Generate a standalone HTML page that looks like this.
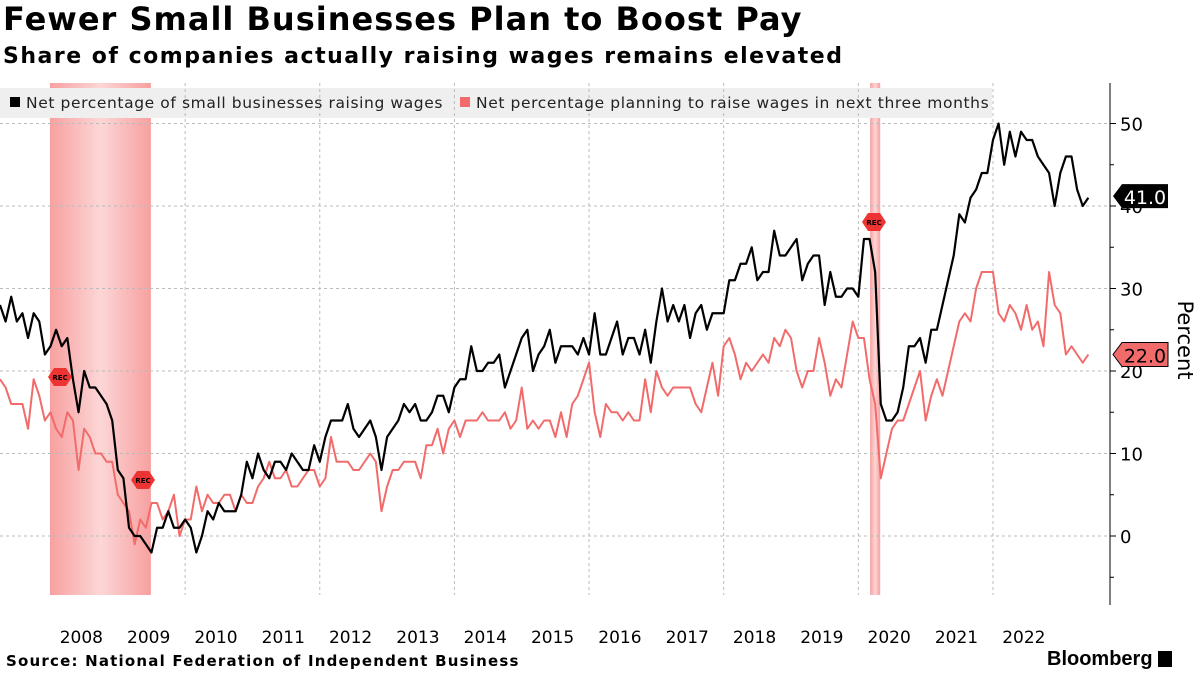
<!DOCTYPE html>
<html><head><meta charset="utf-8">
<style>
html,body{margin:0;padding:0;background:#fff;}
body{width:1200px;height:675px;overflow:hidden;position:relative;font-family:"DejaVu Sans","Liberation Sans",sans-serif;}
#title{position:absolute;left:3px;top:0px;font-size:32px;font-weight:bold;color:#000;white-space:nowrap;letter-spacing:1px;}
#subtitle{position:absolute;left:3px;top:44px;font-size:22px;font-weight:bold;color:#000;white-space:nowrap;letter-spacing:1.5px;}
#source{position:absolute;left:6px;top:652px;font-size:15px;font-weight:bold;white-space:nowrap;letter-spacing:1.2px;}
#logo{position:absolute;left:1047px;top:648px;font-size:20px;font-weight:bold;font-family:"Liberation Sans",sans-serif;}
svg{position:absolute;left:0;top:0;}
</style></head><body>
<div id="title">Fewer Small Businesses Plan to Boost Pay</div>
<div id="subtitle">Share of companies actually raising wages remains elevated</div>
<svg id="chart" width="1200" height="675"></svg>
<div id="source">Source: National Federation of Independent Business</div>
<div id="logo">Bloomberg <span style="display:inline-block;width:14px;height:16px;background:#000;vertical-align:-2px"></span></div>
<script>
// monthly data Apr 2007 .. Jun 2023
const raisingWages = [28,26,29,26,27,24,27,26,22,23,25,23,24,19,15,20,18,18,17,16,14,8,7,1,0,0,-1,-2,1,1,3,1,1,2,1,-2,0,3,2,4,3,3,3,5,9,7,10,8,
7,9,9,8,10,9,8,8,11,9,12,14,14,14,16,13,12,13,14,12,8,12,13,14,16,15,16,14,14,15,17,17,15,18,19,19,23,20,20,21,21,22,18,20,22,24,25,20,22,23,25,21,23,23,
23,22,24,22,27,22,22,24,26,22,24,24,22,25,21,26,30,26,28,26,28,24,27,28,25,27,27,27,31,31,33,33,35,31,32,32,37,34,34,35,36,31,33,34,34,28,32,29,29,30,30,29,
36,36,32,16,14,14,15,18,23,23,24,21,25,25,28,31,34,39,38,41,42,44,44,48,50,45,49,46,49,48,48,46,45,44,40,44,46,46,42,40,41];
const planningRaise = [19,18,16,16,16,13,19,17,14,15,13,12,15,14,8,13,12,10,10,9,9,5,4,3,-1,2,1,4,4,2,3,5,0,2,2,6,3,5,4,4,5,5,3,5,4,4,6,7,
9,7,7,8,6,6,7,8,8,6,7,12,9,9,9,8,8,9,10,9,3,6,8,8,9,9,9,7,11,11,13,10,13,14,12,14,14,14,15,14,14,14,15,13,14,18,13,14,13,14,14,12,15,12,
16,17,19,21,15,12,16,15,15,14,15,14,14,19,15,20,18,17,18,18,18,18,16,15,18,21,17,23,24,22,19,21,20,21,22,21,24,23,25,24,20,18,20,20,24,21,17,19,18,22,26,24,
24,19,16,7,10,13,14,14,16,18,20,14,17,19,17,20,23,26,27,26,30,32,32,32,27,26,28,27,25,28,25,26,23,32,28,27,22,23,22,21,22];
const yearLabels = ["2008","2009","2010","2011","2012","2013","2014","2015","2016","2017","2018","2019","2020","2021","2022"];
const yTicks = [0,10,20,30,40,50];
const recessions = [[8.9,26.9],[155.1,156.9]];
const lastValues = ["41.0","22.0"];

const NS="http://www.w3.org/2000/svg";
const svg=document.getElementById('chart');
const X0=0, PXM=5.61;
const x=i=>X0+i*PXM;
const y=v=>536-8.25*v;
const PT=83, PB=595, PR=1110;
function el(t,a,p){const e=document.createElementNS(NS,t);for(const k in a)e.setAttribute(k,a[k]);(p||svg).appendChild(e);return e;}

const defs=el('defs',{});
const g=el('linearGradient',{id:'rg',x1:'0',x2:'1',y1:'0',y2:'0'},defs);
el('stop',{offset:'0','stop-color':'#f8a0a0'},g);el('stop',{offset:'0.5','stop-color':'#fcd6d6'},g);el('stop',{offset:'1','stop-color':'#f8a0a0'},g);
recessions.forEach(r=>{
  const e=el('rect',{x:x(r[0]),y:PT,width:x(r[1])-x(r[0]),height:PB-PT,fill:'url(#rg)'});
  
  
});
const lb=el('rect',{x:0,y:88,width:992,height:30,fill:'#efefef'});


yTicks.forEach(v=>{
  const l=el('line',{x1:0,x2:PR,y1:y(v),y2:y(v),stroke:'#bbb','stroke-dasharray':'3,3','stroke-width':1});
  
  
});
for(let yr=2010;yr<=2022;yr+=2){
  const i=33+(yr-2010)*12;
  const l=el('line',{x1:x(i),x2:x(i),y1:PT,y2:PB,stroke:'#bbb','stroke-dasharray':'3,3','stroke-width':1});
  
  
}
el('line',{x1:PR,x2:PR,y1:PT,y2:PB+10,stroke:'#000','stroke-width':1});
for(let v=-5;v<=55;v+=5){const yy=y(v);if(yy<PT||yy>PB)continue;el('line',{x1:PR,x2:PR+(v%10===0?6:4),y1:yy,y2:yy,stroke:'#000'});}
yTicks.forEach(v=>{
  const t=el('text',{x:PR+10,y:y(v)+7,'font-size':18,fill:'#000'});t.textContent=v;
  
  
});
const yt=el('text',{x:0,y:0,'font-size':21,transform:'translate(1178,340) rotate(90)','text-anchor':'middle'});yt.textContent='Percent';


yearLabels.forEach((lab,k)=>{
  const i=9+k*12+5.5;
  const t=el('text',{x:x(i),y:643,'font-size':17,'text-anchor':'middle'});t.textContent=lab;
  
  
});
function line(data,color,w,name){
  const p=el('polyline',{points:data.map((v,i)=>x(i)+','+y(v)).join(' '),fill:'none',stroke:color,'stroke-width':w,'stroke-linejoin':'round'});
  
  
}
line(planningRaise,'#f26b6b',2,'series-planning-raise');
line(raisingWages,'#000','2.2','series-raising-wages');
function flag(cx,cy){
  el('polygon',{points:`${cx-12},${cy} ${cx-6},${cy-9} ${cx+6},${cy-9} ${cx+12},${cy} ${cx+6},${cy+9} ${cx-6},${cy+9}`,fill:'#ee3333'});
  const t=el('text',{x:cx,y:cy+3,'font-size':7,'font-weight':'bold','text-anchor':'middle'});t.textContent='REC';
  
  
}
flag(60,377);flag(143,480);flag(874,222);
const items=[[10,'#000','Net percentage of small businesses raising wages'],[460,'#f26b6b','Net percentage planning to raise wages in next three months']];
items.forEach(it=>{
  el('rect',{x:it[0],y:97,width:10,height:10,fill:it[1]});
  const t=el('text',{x:it[0]+16,y:108,'font-size':15.5,fill:'#222','letter-spacing':0.6});t.textContent=it[2];
  
  
});
function tag(v,txt,bg,fg){
  const yy=y(v);
  el('polygon',{points:`${PR+3},${yy} ${PR+12},${yy-12} ${PR+58},${yy-12} ${PR+58},${yy+12} ${PR+12},${yy+12}`,fill:bg,stroke:'#000','stroke-width':bg==='#000'?0:1});
  const t=el('text',{x:PR+35,y:yy+8,'font-size':19,fill:fg,'text-anchor':'middle'});t.textContent=txt;
  
  
}
tag(raisingWages[raisingWages.length-1]+0.2,lastValues[0],'#000','#fff');
tag(planningRaise[planningRaise.length-1],lastValues[1],'#f26b6b','#000');
</script>
</body></html>
